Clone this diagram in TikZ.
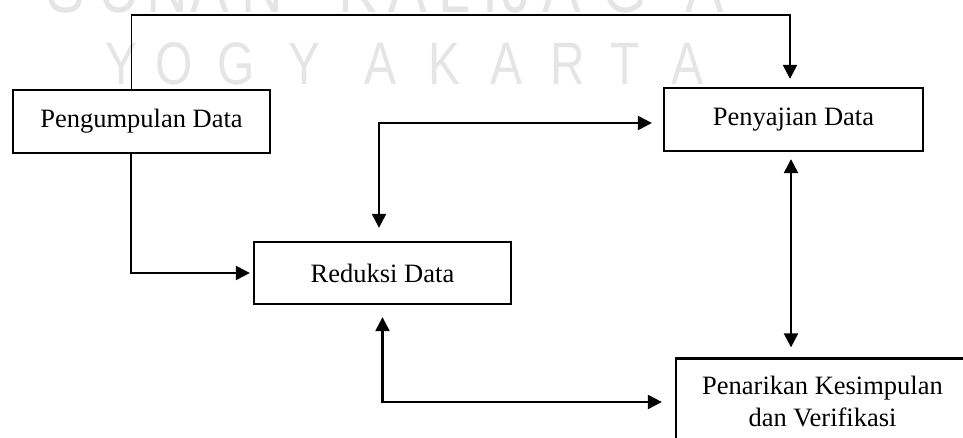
\documentclass[tikz,border=0pt]{standalone}
\usepackage{fontspec}
\setmainfont{Liberation Serif}
\newfontfamily\wmfont{Liberation Sans}
\usetikzlibrary{arrows.meta,calc}

\begin{document}
\begin{tikzpicture}[x=1pt,y=-1pt,
  box/.style={draw,line width=2.3pt,font=\fontsize{26.5}{32}\selectfont,inner sep=0pt},
  tip/.tip={Triangle[length=14pt,width=14pt]},
  conn/.style={line width=2.3pt,-tip},
  conn2/.style={line width=2.3pt,tip-tip},
  wmbig/.style={text=black!10,font=\wmfont\fontsize{72}{72}\selectfont,anchor=base,inner sep=0pt},
  wm/.style={text=black!10,font=\wmfont\fontsize{60}{60}\selectfont,anchor=base,inner sep=0pt}]
\useasboundingbox (0,0) rectangle (963,438);

% background lettering
\foreach \c/\x in {S/66,U/119,N/167,A/210,N/262,K/358,A/408,L/455,I/490,J/517,A/562,G/625,A/705}
  \node[wmbig] at (\x,13) {\scalebox{0.8}[1]{\c}};
\foreach \c/\x in {Y/122,O/174,G/236,Y/305,A/381,K/445,A/507,R/568,T/625,A/687}
  \node[wm] at (\x,85) {\scalebox{0.8}[1]{\c}};

% stages
\node[box,minimum width=257pt,minimum height=63pt] (peng) at (141.5,121.5) {Pengumpulan Data};
\node[box,minimum width=259pt,minimum height=63pt] (peny) at (793.5,119.5) {Penyajian Data};
\node[box,minimum width=257pt,minimum height=62pt] (red) at (382.5,273) {Reduksi Data};
\node[box,minimum width=293pt,minimum height=87pt,align=center] (pen) at (822.5,402)
  {Penarikan Kesimpulan\\dan Verifikasi};

% flows
\coordinate (c1) at (131,15);
\draw[line width=1pt] (c1 |- peng.north) -- (c1);
\draw[conn,shorten >=8pt] (c1) -| ([xshift=-3.5pt]peny.north);
\draw[conn,shorten >=3pt] ([xshift=-10.5pt]peng.south) |- (red.west);
\draw[conn2,shorten <=13pt,shorten >=11pt] ([xshift=-3.5pt]red.north) |- ([yshift=-3.5pt]peny.west);
\draw[conn2,shorten <=7pt,shorten >=10pt] ([xshift=-2.5pt]peny.south) -- ([xshift=-2.5pt]peny.south |- pen.north);
\draw[conn2,shorten <=12pt,shorten >=13pt] (red.south) |- (pen.west);
\end{tikzpicture}
\end{document}
